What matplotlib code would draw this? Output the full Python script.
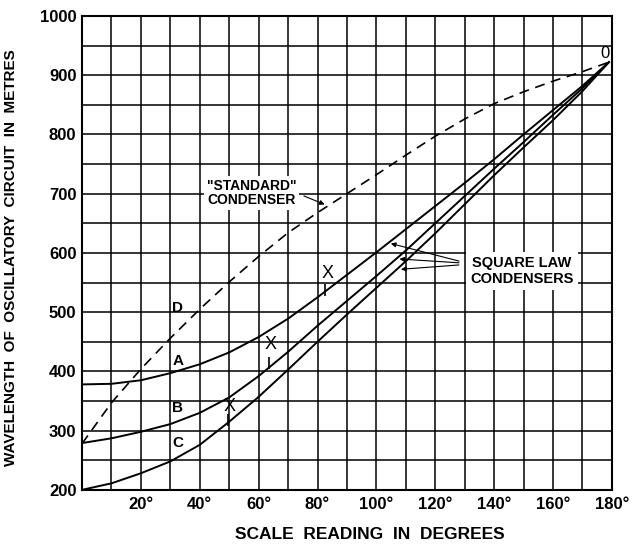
import numpy as np
import matplotlib
matplotlib.use("Agg")
import matplotlib.pyplot as plt

plt.rcParams['font.family'] = ['Liberation Sans', 'DejaVu Sans']

# ── Data ──────────────────────────────────────────────────────────────────────
deg = [0, 10, 20, 30, 40, 50, 60, 70, 80, 90, 100, 110, 120, 130, 140, 150, 160, 170, 179]
curve_a = [378, 379, 385, 397, 412, 432, 458, 489, 525, 563, 601, 640, 679, 718, 758, 800, 841, 882, 922]
curve_b = [279, 287, 298, 311, 330, 356, 392, 433, 477, 519, 561, 604, 650, 696, 742, 787, 833, 878, 922]
curve_c = [200, 211, 228, 248, 276, 315, 357, 403, 450, 496, 541, 586, 633, 682, 731, 778, 824, 873, 922]
curve_d = [278, 347, 404, 456, 505, 551, 594, 634, 668, 700, 732, 765, 797, 826, 852, 872, 890, 906, 922]

curve_names = ["A", "B", "C", "D"]
name_y = [417, 338, 279, 507]

# "X" marks and the small ticks under them
x_marks_deg = [50, 64, 83.5]
x_marks_val = [340, 445, 566]
tick_deg = [49.6, 63.6, 82.6]
tick_val = [318, 414, 538]

x_ticks = [20, 40, 60, 80, 100, 120, 140, 160, 180]
x_tick_labels = ["20°", "40°", "60°", "80°", "100°", "120°", "140°", "160°", "180°"]
y_ticks = [200, 300, 400, 500, 600, 700, 800, 900, 1000]

# ── Figure ────────────────────────────────────────────────────────────────────
fig = plt.figure(figsize=(6.36, 5.51), dpi=100)
ax = fig.add_axes([0.129, 0.111, 0.833, 0.860])

ax.set_xlim(0, 180)
ax.set_ylim(200, 1000)
ax.set_xticks(x_ticks)
ax.set_xticklabels(x_tick_labels)
ax.set_xticks(np.arange(0, 181, 10), minor=True)
ax.set_yticks(y_ticks)
ax.set_yticks(np.arange(200, 1001, 50), minor=True)
ax.tick_params(which="both", length=0)
ax.tick_params(axis="x", pad=5, labelsize=12)
ax.tick_params(axis="y", pad=4, labelsize=12)
for lab in ax.get_xticklabels() + ax.get_yticklabels():
    lab.set_fontweight("bold")
ax.grid(which="both", color="black", lw=1.1)
ax.set_axisbelow(True)
for sp in ax.spines.values():
    sp.set_linewidth(1.5)

# curves
kw = dict(color="black", lw=1.4, zorder=3)
ax.plot(deg, curve_a, **kw)
ax.plot(deg, curve_b, **kw)
ax.plot(deg, curve_c, **kw)
ax.plot(deg, curve_d, color="black", lw=1.2, ls=(0, (6, 4)), zorder=3)

for nm, yv in zip(curve_names, name_y):
    ax.text(32.5, yv, nm, fontsize=11, fontweight="bold", ha="center", va="center", zorder=4)

for xd, yv in zip(x_marks_deg, x_marks_val):
    ax.text(xd, yv, "X", fontsize=13, ha="center", va="center", zorder=4)
ax.plot(tick_deg, tick_val, ls="none", marker="|", ms=8, mew=1.2, color="black", zorder=4)

ax.text(177.8, 937, "0", fontsize=12, ha="center", va="center", zorder=4)

# labels with arrows
ax.text(57.5, 701, "\"STANDARD\"\nCONDENSER", fontsize=10, fontweight="bold",
        ha="center", va="center", linespacing=1.05, zorder=4,
        bbox=dict(facecolor="white", edgecolor="none", pad=2))
ax.annotate("", xy=(83.3, 680), xytext=(74.5, 698),
            arrowprops=dict(arrowstyle="-|>", lw=0.8, mutation_scale=7, color="black"), zorder=4)

ax.text(149.5, 570, "SQUARE LAW\nCONDENSERS", fontsize=10.5, fontweight="bold",
        ha="center", va="center", linespacing=1.15, zorder=4,
        bbox=dict(facecolor="white", edgecolor="none", pad=3))
for tip, tail in [((104, 617), (129, 585)), ((106.9, 590), (129, 583)), ((107.4, 572), (129, 580))]:
    ax.annotate("", xy=tip, xytext=tail,
                arrowprops=dict(arrowstyle="-|>", lw=0.8, mutation_scale=7, color="black"), zorder=4)

ax.set_xlabel("SCALE  READING  IN  DEGREES", fontsize=12.5, fontweight="bold")
ax.xaxis.set_label_coords(0.543, -0.078)
ax.set_ylabel("WAVELENGTH  OF  OSCILLATORY  CIRCUIT  IN  METRES", fontsize=11, fontweight="bold")
ax.yaxis.set_label_coords(-0.12, 0.49)

plt.savefig("out.png", dpi=100)
